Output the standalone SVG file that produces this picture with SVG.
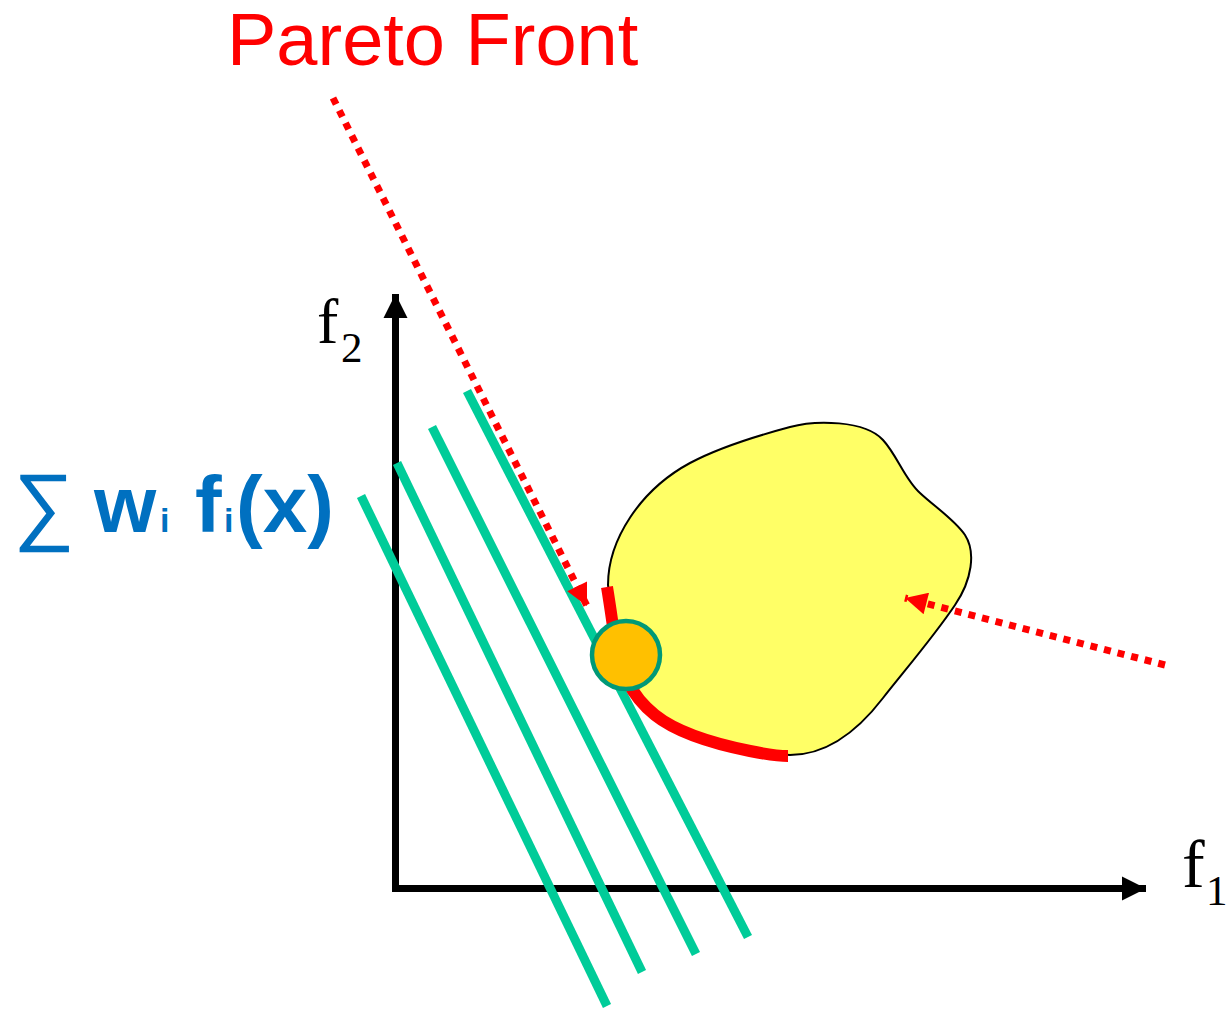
<svg xmlns="http://www.w3.org/2000/svg" width="1226" height="1010" viewBox="0 0 1226 1010">
<style>
.green{stroke:#00CC99;stroke-width:9;fill:none}
.axis{stroke:#000;stroke-width:7;fill:none}
.dot{stroke:#FF0000;stroke-width:7;stroke-dasharray:7 7;fill:none}
.serif{font-family:"Liberation Serif","Times New Roman",serif;fill:#000}
.blue{font-family:"Liberation Sans",Arial,sans-serif;font-weight:bold;fill:#0070C0}
</style>
<defs>
<marker id="redArrow" viewBox="0 0 10 10" refX="10" refY="5" markerWidth="26" markerHeight="22" markerUnits="userSpaceOnUse" orient="auto">
<path d="M0,0 L10,5 L0,10 Z" fill="#FF0000"/>
</marker>
<marker id="blackArrow" viewBox="0 0 10 10" refX="10" refY="5" markerWidth="24" markerHeight="25" markerUnits="userSpaceOnUse" orient="auto">
<path d="M0,0 L10,5 L0,10 Z" fill="#000"/>
</marker>
</defs>
<g id="axes">
<line class="axis" x1="395.5" y1="889" x2="395.5" y2="294" marker-end="url(#blackArrow)"/>
<line class="axis" x1="392" y1="888.5" x2="1146" y2="888.5" marker-end="url(#blackArrow)"/>
</g>
<g id="weighted-lines">
<line class="green" x1="361" y1="496" x2="607" y2="1006"/>
<line class="green" x1="397" y1="463" x2="642" y2="972"/>
<line class="green" x1="432" y1="427" x2="696" y2="954"/>
<line class="green" x1="467" y1="391" x2="748" y2="937"/>
</g>
<g id="feasible-region">
<path d="M 608,585 C 608,540 640,490 690,463 C 720,447 760,435 790,427 C 815,420 865,420 883,440 C 897,455 905,480 920,493 C 935,507 955,520 965,535 C 976,552 972,580 955,605 C 935,635 905,670 883,698 C 860,728 830,755 790,755 C 740,752 690,740 660,720 C 635,700 618,660 614,630 Z" fill="#FFFF66" stroke="#000" stroke-width="2"/>
</g>
<g id="pareto-curve">
<path d="M 607,587 C 610,605 612,620 615,640 C 620,670 630,695 655,715 C 680,735 720,745 750,751 C 765,754 778,756 788,756" fill="none" stroke="#FF0000" stroke-width="12"/>
</g>
<g id="connectors">
<line class="dot" x1="333" y1="98" x2="587" y2="606" marker-end="url(#redArrow)"/>
<line class="dot" x1="1165" y1="665" x2="905" y2="598" marker-end="url(#redArrow)"/>
</g>
<g id="optimum">
<circle cx="626" cy="655" r="34" fill="#FFC000" stroke="#009977" stroke-width="4.5"/>
</g>
<g id="labels">
<text x="227" y="65" font-family="'Liberation Sans',Arial,sans-serif" font-size="74" fill="#FF0000">Pareto Front</text>
<text class="serif" x="317" y="343" font-size="64">f</text>
<text class="serif" x="341" y="362" font-size="43">2</text>
<text class="serif" x="1182" y="887" font-size="68">f</text>
<text class="serif" x="1206" y="905" font-size="43">1</text>
<text class="blue" y="532" font-size="80"><tspan x="13" y="534" font-weight="normal" font-size="86">∑</tspan><tspan x="94" y="532">w</tspan><tspan x="160" font-size="34">i</tspan><tspan x="195">f</tspan><tspan x="224" font-size="34">i</tspan><tspan x="236">(x)</tspan></text>
</g>
</svg>
